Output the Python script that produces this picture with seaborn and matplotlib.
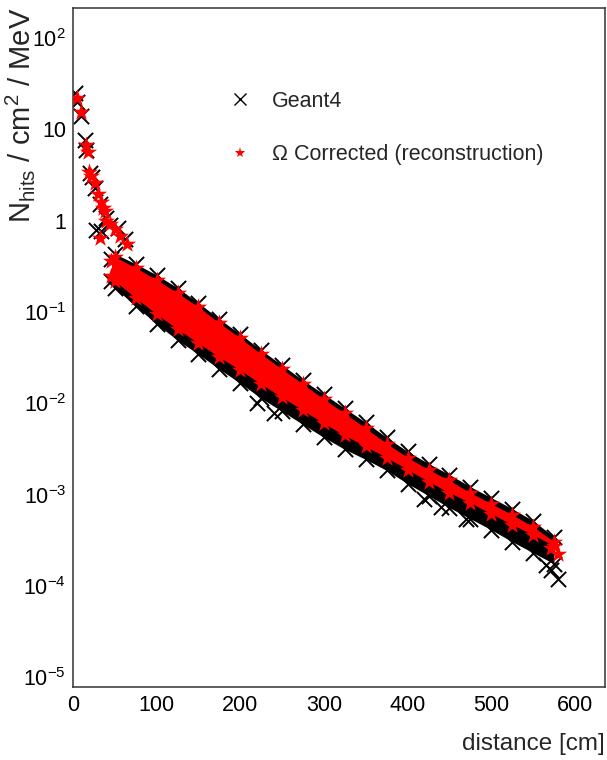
import matplotlib
matplotlib.use("Agg")
import matplotlib.pyplot as plt
import seaborn as sns
import pandas as pd
from matplotlib.lines import Line2D
from matplotlib.ticker import FixedLocator, FixedFormatter, LogLocator, MultipleLocator, NullFormatter

# ---- data -----------------------------------------------------------------
# isolated points close to the source (distance in cm, N_hits / cm^2 / MeV)
near_dist_g4 = [2.4, 5, 10, 14, 16, 20, 23, 26, 28, 32, 34, 40, 44, 54, 62]
near_val_g4 = [24.9, 20, 14, 7.6, 6.0, 3.3, 3.0, 2.3, 0.8, 1.54, 0.78, 1.08, 0.9, 0.84, 0.63]
near_dist_rec = [4.4, 9.5, 15.5, 17.5, 19, 22, 26, 30, 32, 34, 36, 38, 40, 44, 50, 56, 65]
near_val_rec = [21.9, 15.4, 6.8, 5.6, 3.4, 3.1, 2.6, 1.95, 0.65, 1.6, 1.38, 1.29, 1.0, 0.93, 0.81, 0.68, 0.56]

# dense region: highest / lowest hits per distance slice
band_dist = [46, 50, 75, 100, 125, 150, 175, 200, 225, 250, 275, 300,
             325, 350, 375, 400, 425, 450, 475, 500, 525, 550, 575]
g4_hi = [0.38, 0.434, 0.337, 0.255, 0.184, 0.126, 0.0838, 0.0573, 0.0382, 0.0262, 0.0179, 0.0126,
         0.00881, 0.00618, 0.00423, 0.00297, 0.00219, 0.00166, 0.00122, 0.000927, 0.000702, 0.000518, 0.000345]
g4_lo = [0.22, 0.184, 0.116, 0.0738, 0.0492, 0.0345, 0.0237, 0.0166, 0.01135, 0.00817, 0.00587, 0.00423,
         0.00313, 0.00243, 0.00184, 0.00132, 0.000975, 0.000720, 0.000545, 0.000412, 0.000305, 0.000231, 0.000175]
rec_hi = [0.36, 0.402, 0.305, 0.225, 0.162, 0.1135, 0.0757, 0.0518, 0.0345, 0.0237, 0.0162, 0.01107,
          0.00776, 0.00531, 0.00363, 0.00255, 0.00188, 0.00143, 0.00105, 0.000796, 0.000603, 0.000445, 0.000305]
rec_lo = [0.25, 0.219, 0.1426, 0.0951, 0.0650, 0.0456, 0.0320, 0.0231, 0.0162, 0.01164, 0.00838, 0.00603,
          0.00445, 0.00337, 0.00255, 0.00188, 0.00139, 0.00105, 0.000817, 0.000618, 0.000468, 0.000363, 0.000275]

# stray Geant4 hits below the cloud and the last hits at the far end
out_dist_g4 = [220, 240, 420, 440, 470, 565, 572, 580]
out_val_g4 = [0.0100, 0.0078, 9.0e-4, 7.4e-4, 5.4e-4, 1.7e-4, 1.5e-4, 1.2e-4]
far_dist_rec = [572, 580]
far_val_rec = [2.6e-4, 2.25e-4]

series_labels = ["Geant4", "\u03a9 Corrected (reconstruction)"]
y_decades = [1e-5, 1e-4, 1e-3, 1e-2, 1e-1, 1, 10, 100]
y_tick_labels = ["$10^{-5}$", "$10^{-4}$", "$10^{-3}$", "$10^{-2}$", "$10^{-1}$", "1", "10", "$10^{2}$"]
x_label = "distance [cm]"
y_label = r"N$_{\rm hits}$ / cm$^{2}$ / MeV"

# ---- style ----------------------------------------------------------------
sns.set_theme(style="white")
plt.rcParams["font.family"] = ["Liberation Sans", "DejaVu Sans"]
plt.rcParams["mathtext.fontset"] = "custom"
plt.rcParams["mathtext.rm"] = "Liberation Sans"
plt.rcParams["mathtext.it"] = "Liberation Sans:italic"
plt.rcParams["mathtext.default"] = "regular"

fig = plt.figure(figsize=(6.07, 7.6), dpi=100)
ax = fig.add_axes([0.1203, 0.096, 0.8764, 0.8934])

band = pd.DataFrame({"d": band_dist, "g4_hi": g4_hi, "g4_lo": g4_lo,
                     "rec_hi": rec_hi, "rec_lo": rec_lo})

# Geant4 cloud
ax.fill_between(band["d"], band["g4_lo"], band["g4_hi"], color="black", lw=0, zorder=2)
g4_x = near_dist_g4 + band_dist + band_dist + out_dist_g4
g4_y = near_val_g4 + g4_hi + g4_lo + out_val_g4
sns.scatterplot(x=g4_x, y=g4_y, marker="x", color="black", s=120, linewidth=1.4,
                ax=ax, legend=False, zorder=2)

# reconstructed cloud
ax.fill_between(band["d"], band["rec_lo"], band["rec_hi"], color="red", lw=0, zorder=3)
rec_x = near_dist_rec + band_dist + band_dist + far_dist_rec
rec_y = near_val_rec + rec_hi + rec_lo + far_val_rec
sns.scatterplot(x=rec_x, y=rec_y, marker="*", color="red", s=170, linewidth=0,
                ax=ax, legend=False, zorder=3)

# ---- axes -----------------------------------------------------------------
ax.set_yscale("log")
ax.set_xlim(0, 636)
ax.set_ylim(7.8e-6, 214)

ax.yaxis.set_major_locator(FixedLocator(y_decades))
ax.yaxis.set_major_formatter(FixedFormatter(y_tick_labels))
ax.yaxis.set_minor_locator(LogLocator(base=10, subs=[2, 3, 4, 5, 6, 7, 8, 9], numticks=20))
ax.yaxis.set_minor_formatter(NullFormatter())
ax.xaxis.set_major_locator(MultipleLocator(100))
ax.xaxis.set_minor_locator(MultipleLocator(20))

ax.tick_params(axis="both", which="both", direction="in", top=False, right=False,
               color="#333333", width=0.9, labelsize=15.5, labelcolor="black")
ax.tick_params(axis="y", which="major", length=11, pad=5)
ax.tick_params(axis="y", which="minor", length=6)
ax.tick_params(axis="x", which="major", length=14, pad=6)
ax.tick_params(axis="x", which="minor", length=7)

for sp in ax.spines.values():
    sp.set_color("#333333")
    sp.set_linewidth(1.1)

ax.set_xlabel(x_label, fontsize=17.5, loc="right")
ax.xaxis.set_label_coords(1.0, -0.067)
ax.set_ylabel(y_label, fontsize=21, loc="top")
ax.yaxis.set_label_coords(-0.067, 1.0)

handles = [Line2D([], [], marker="x", color="black", linestyle="none", markersize=9, markeredgewidth=1.0),
           Line2D([], [], marker="*", color="red", linestyle="none", markersize=8, markeredgewidth=0)]
ax.legend(handles, series_labels, loc="upper left", bbox_to_anchor=(0.293, 0.878),
          frameon=False, fontsize=15.5, borderaxespad=0, borderpad=0,
          handlelength=1.0, handletextpad=1.0, labelspacing=1.5)

fig.savefig("out.png", dpi=100)
